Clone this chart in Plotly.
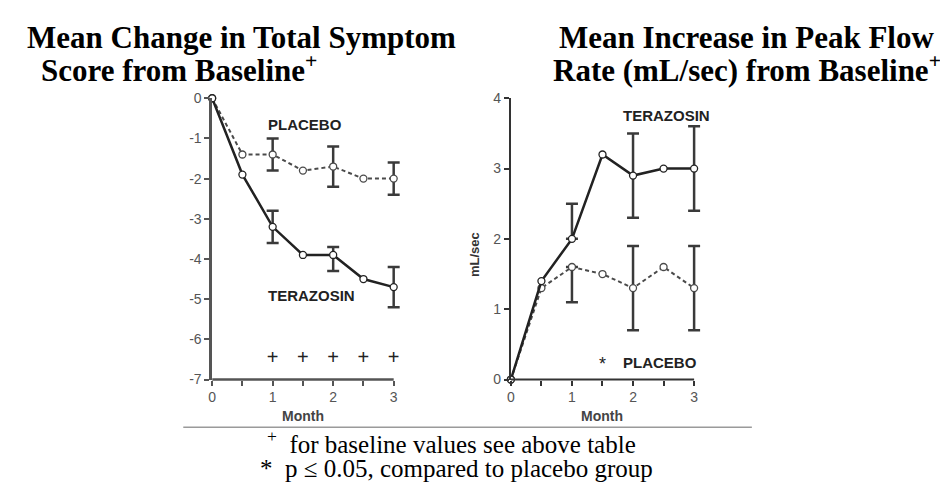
import plotly.graph_objects as go

W, H = 948, 493

months = [0, 0.5, 1, 1.5, 2, 2.5, 3]

# Left panel: mean change in total symptom score
sym_placebo = [0, -1.4, -1.4, -1.8, -1.7, -2.0, -2.0]
sym_terazosin = [0, -1.9, -3.2, -3.9, -3.9, -4.5, -4.7]
err_months = [1, 2, 3]
sym_placebo_err = [0.4, 0.5, 0.4]
sym_terazosin_err_up = [0.4, 0.2, 0.5]
sym_terazosin_err_dn = [0.4, 0.4, 0.5]
sig_months_left = [1, 1.5, 2, 2.5, 3]
sig_level_left = -6.5

# Right panel: mean increase in peak flow rate
flow_terazosin = [0, 1.4, 2.0, 3.2, 2.9, 3.0, 3.0]
flow_placebo = [0, 1.3, 1.6, 1.5, 1.3, 1.6, 1.3]
flow_terazosin_err_up = [0.5, 0.6, 0.6]
flow_terazosin_err_dn = [0.0, 0.6, 0.6]
flow_placebo_err_up = [0.0, 0.6, 0.6]
flow_placebo_err_dn = [0.5, 0.6, 0.6]
sig_months_right = [1.5]
sig_level_right = 0.2

sym_ticks = [-7, -6, -5, -4, -3, -2, -1, 0]
flow_ticks = [0, 1, 2, 3, 4]
month_ticktext = ["0", "", "1", "", "2", "", "3"]

DARK = "#222222"
GRAY = "#4a4a4a"
AXIS = "#555555"
AXIS2 = "#333333"


def pick(series, xs):
    return [series[months.index(x)] for x in xs]


fig = go.Figure()


def add_series(y, xa, ya, dashed):
    fig.add_trace(go.Scatter(
        x=months, y=y, xaxis=xa, yaxis=ya, mode="lines+markers",
        line=dict(color=GRAY if dashed else DARK, width=2 if dashed else 2.5,
                  dash="4px,3px" if dashed else "solid"),
        marker=dict(symbol="circle", size=7, color="white",
                    line=dict(color=GRAY if dashed else DARK, width=1.3)),
        cliponaxis=False, showlegend=False, hoverinfo="skip"))


def add_err(series, up, dn, xa, ya):
    fig.add_trace(go.Scatter(
        x=err_months, y=pick(series, err_months), xaxis=xa, yaxis=ya,
        mode="markers", marker=dict(size=1, color="rgba(0,0,0,0)"),
        error_y=dict(type="data", symmetric=False, array=up, arrayminus=dn,
                     color="#3a3a3a", thickness=2.5, width=6),
        cliponaxis=False, showlegend=False, hoverinfo="skip"))


add_err(sym_placebo, sym_placebo_err, sym_placebo_err, "x", "y")
add_err(sym_terazosin, sym_terazosin_err_up, sym_terazosin_err_dn, "x", "y")
add_series(sym_placebo, "x", "y", True)
add_series(sym_terazosin, "x", "y", False)

add_err(flow_terazosin, flow_terazosin_err_up, flow_terazosin_err_dn, "x2", "y2")
add_err(flow_placebo, flow_placebo_err_up, flow_placebo_err_dn, "x2", "y2")
add_series(flow_placebo, "x2", "y2", True)
add_series(flow_terazosin, "x2", "y2", False)

fig.add_trace(go.Scatter(
    x=sig_months_left, y=[sig_level_left] * len(sig_months_left),
    xaxis="x", yaxis="y", mode="text", text=["+"] * len(sig_months_left),
    textfont=dict(family="Liberation Sans", size=20, color=DARK),
    cliponaxis=False, showlegend=False, hoverinfo="skip"))
fig.add_trace(go.Scatter(
    x=sig_months_right, y=[sig_level_right] * len(sig_months_right),
    xaxis="x2", yaxis="y2", mode="text", text=["*"] * len(sig_months_right),
    textfont=dict(family="Liberation Sans", size=18, color=DARK),
    cliponaxis=False, showlegend=False, hoverinfo="skip"))

X_MAX = 3.12
L0, L3 = 201, 383.3
R0, R3 = 501, 685
y_dom = [1 - 375.7 / H, 1 - 85 / H]


def axis_common(col, lw):
    return dict(showgrid=False, zeroline=False, showline=True,
                linecolor=col, linewidth=lw, ticks="outside",
                ticklen=5, tickwidth=2, tickcolor=col,
                tickfont=dict(family="Liberation Sans", size=14, color="#555555"),
                fixedrange=True)


def xaxis_style(col, lw):
    d = axis_common(col, lw)
    d["showline"] = False
    return d


fig.update_layout(
    width=W, height=H, margin=dict(l=0, r=0, t=0, b=0),
    paper_bgcolor="white", plot_bgcolor="white",
    xaxis=dict(domain=[L0 / W, (L0 + (L3 - L0) / 3 * X_MAX) / W], range=[0, X_MAX],
               anchor="y", tickvals=months, ticktext=month_ticktext,
               **xaxis_style(AXIS, 2.5)),
    yaxis=dict(domain=y_dom, range=[-7, 0], anchor="x",
               tickvals=sym_ticks, ticktext=[str(t) for t in sym_ticks],
               **axis_common(AXIS, 2.5)),
    xaxis2=dict(domain=[R0 / W, (R0 + (R3 - R0) / 3 * X_MAX) / W], range=[0, X_MAX],
                anchor="y2", tickvals=months, ticktext=month_ticktext,
                **xaxis_style(AXIS2, 2)),
    yaxis2=dict(domain=y_dom, range=[0, 4], anchor="x2",
                tickvals=flow_ticks, ticktext=[str(t) for t in flow_ticks],
                **axis_common(AXIS2, 2)),
)

# x-axis baselines ending at month 3
fig.add_shape(type="line", xref="x", yref="y domain", x0=0, x1=months[-1], y0=0, y1=0,
              line=dict(color=AXIS, width=2.5), layer="above")
fig.add_shape(type="line", xref="x2", yref="y2 domain", x0=0, x1=months[-1], y0=0, y1=0,
              line=dict(color=AXIS2, width=2), layer="above")

LABEL_FONT = dict(family="Liberation Sans Narrow, Liberation Sans", size=15, color=DARK)
NFONT = dict(family="Liberation Sans", size=12, color="#555555")

ann = []


def lab(text, x, y, xr, yr, font, xanchor="left"):
    ann.append(dict(text=text, x=x, y=y, xref=xr, yref=yr, showarrow=False,
                    xanchor=xanchor, yanchor="middle", font=font))


lab("<b>PLACEBO</b>", 0.89, -0.65, "x", "y", LABEL_FONT)
lab("<b>TERAZOSIN</b>", 0.89, -4.9, "x", "y", LABEL_FONT)
lab("N=55", 3.13, -2.1, "x", "y", NFONT)
lab("N=54", 3.13, -4.79, "x", "y", NFONT)
lab("<b>TERAZOSIN</b>", 1.81, 3.76, "x2", "y2", LABEL_FONT)
lab("<b>PLACEBO</b>", 1.81, 0.24, "x2", "y2", LABEL_FONT)
lab("N=52", 3.28, 2.97, "x2", "y2", NFONT)
lab("N=54", 3.28, 1.27, "x2", "y2", NFONT)

MONTH_FONT = dict(family="Liberation Sans Narrow, Liberation Sans", size=14, color="#444444")
lab("<b>Month</b>", (L0 + L3) / 2 / W, 1 - 413 / H, "paper", "paper", MONTH_FONT, "center")
lab("<b>Month</b>", (R0 + R3) / 2 / W, 1 - 413 / H, "paper", "paper", MONTH_FONT, "center")
ann.append(dict(text="<b>mL/sec</b>", x=465 / W, y=1 - 247 / H, xref="paper", yref="paper",
                showarrow=False, textangle=-90, xanchor="center", yanchor="middle",
                font=dict(family="Liberation Sans Narrow, Liberation Sans", size=13, color="#333333")))

TITLE_FONT = dict(family="Liberation Serif", size=31, color="black")
lab("<b>Mean Change in Total Symptom</b>", 13 / W, 1 - 22 / H, "paper", "paper", TITLE_FONT)
lab("<b>Score from Baseline<sup>+</sup></b>", 27 / W, 1 - 54 / H, "paper", "paper", TITLE_FONT)
lab("<b>Mean Increase in Peak Flow</b>", 547 / W, 1 - 22 / H, "paper", "paper", TITLE_FONT)
lab("<b>Rate (mL/sec) from Baseline<sup>+</sup></b>", 541 / W, 1 - 54 / H, "paper", "paper", TITLE_FONT)

FOOT_FONT = dict(family="Liberation Serif", size=25, color="black")
lab("<sup>+</sup>  for baseline values see above table", 254 / W, 1 - 440 / H, "paper", "paper", FOOT_FONT)
lab("*  p ≤ 0.05, compared to placebo group", 247 / W, 1 - 468 / H, "paper", "paper", FOOT_FONT)

fig.update_layout(annotations=ann)
fig.add_shape(type="line", xref="paper", yref="paper", x0=172 / W, x1=743 / W,
              y0=1 - 425 / H, y1=1 - 425 / H, line=dict(color="#9a9a9a", width=1.5))

fig.write_html("out.html")
